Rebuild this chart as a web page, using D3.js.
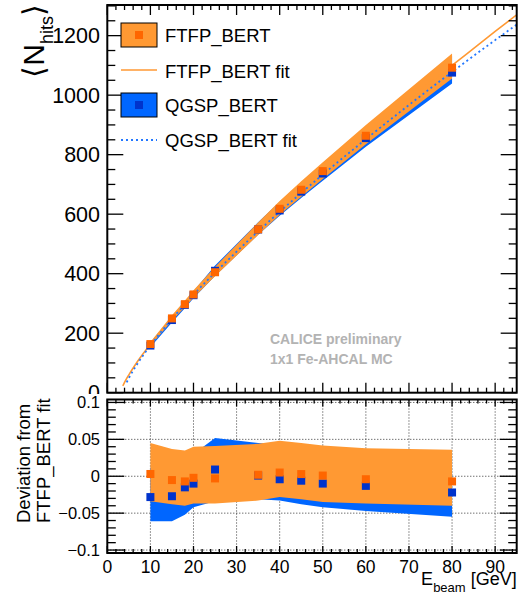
<!DOCTYPE html>
<html>
<head>
<meta charset="utf-8">
<script src="https://cdn.jsdelivr.net/npm/d3@7"></script>
<style>
  body { margin: 0; background: #fff; }
  text { font-family: "Liberation Sans", Arial, Helvetica, sans-serif; }
</style>
</head>
<body>
<div id="chart"></div>
<script>
// beam energies of the simulated points [GeV]
const energies = [10, 15, 18, 20, 25, 35, 40, 45, 50, 60, 80];

// mean number of hits
const ftfpHits = [163.5, 249.7, 297.5, 330.3, 404.8, 549.1, 618.1, 682.0, 744.7, 863.5, 1092.3];
const qgspHits = [158.4, 244.2, 295.1, 327.7, 409.7, 548.5, 612.5, 675.9, 736.6, 855.7, 1075.8];

// FTFP_BERT fit evaluated at the beam energies (reference for deviations)
const ftfpFitAt = [163, 251, 299.6, 331, 406, 548, 615, 680, 744, 867, 1100];

// systematic bands, relative to FTFP_BERT fit
const ftfpBandLo = [-0.034, -0.038, -0.040, -0.037, -0.037, -0.033, -0.028, -0.031, -0.035, -0.037, -0.040];
const ftfpBandHi = [0.045, 0.037, 0.035, 0.040, 0.041, 0.044, 0.048, 0.045, 0.0415, 0.038, 0.036];
const qgspBandLo = [-0.061, -0.061, -0.052, -0.042, -0.034, -0.031, -0.033, -0.038, -0.042, -0.047, -0.055];
const qgspBandHi = [0.012, 0.012, 0.022, 0.030, 0.052, 0.045, 0.043, 0.040, 0.037, 0.033, 0.028];

// fit curves
const ftfpFitE = [3.6, 4, 4.5, 5, 6, 7, 8, 10, 12, 15, 20, 30, 40, 50, 60, 70, 80, 90, 95];
const ftfpFitN = [23, 35, 48, 60, 83, 105, 125, 163, 199.5, 251, 331, 478, 615, 744, 867, 986, 1100, 1214, 1270];
const qgspFitE = [4.5, 5, 6, 7, 8, 10, 12, 15, 20, 30, 40, 50, 60, 70, 80, 90, 95];
const qgspFitN = [35, 49, 74.5, 97.5, 119, 159, 196, 248, 329, 474, 608, 733, 852, 967, 1078, 1185, 1237];

const yTicksTop = [0, 200, 400, 600, 800, 1000, 1200];
const yTicksBot = [-0.1, -0.05, 0, 0.05, 0.1];
const xTicks = [0, 10, 20, 30, 40, 50, 60, 70, 80, 90];

const legendLabels = ["FTFP_BERT", "FTFP_BERT fit", "QGSP_BERT", "QGSP_BERT fit"];

const width = 524, height = 599;
const bandOrange = "#ff9933", bandBlue = "#0066ff";
const markOrange = "#ff6600", markBlue = "#0033cc";

const svg = d3.select("#chart").append("svg")
  .attr("width", width).attr("height", height);

const x = d3.scaleLinear().domain([0, 95]).range([107.3, 516.7]);
const yTop = d3.scaleLinear().domain([0, 1303]).range([392.7, 5]);
const yBot = d3.scaleLinear().domain([-0.104, 0.104]).range([553, 399.5]);

const defs = svg.append("defs");
defs.append("clipPath").attr("id", "clipTop").append("rect")
  .attr("x", x(0)).attr("y", yTop(1303)).attr("width", x(95) - x(0)).attr("height", yTop(0) - yTop(1303));
defs.append("clipPath").attr("id", "clipBot").append("rect")
  .attr("x", x(0)).attr("y", yBot(0.104)).attr("width", x(95) - x(0)).attr("height", yBot(-0.104) - yBot(0.104));

// ---------- top pad ----------
const topPad = svg.append("g");
const topPlot = topPad.append("g").attr("clip-path", "url(#clipTop)");

const bandTop = (lo, hi) => d3.area()
  .x((d, i) => x(energies[i]))
  .y0((d, i) => yTop(ftfpFitAt[i] * (1 + lo[i])))
  .y1((d, i) => yTop(ftfpFitAt[i] * (1 + hi[i])));

topPlot.append("path").datum(energies).attr("d", bandTop(qgspBandLo, qgspBandHi)).attr("fill", bandBlue);
topPlot.append("path").datum(energies).attr("d", bandTop(ftfpBandLo, ftfpBandHi)).attr("fill", bandOrange);

const fitLine = d3.line().x(d => x(d[0])).y(d => yTop(d[1])).curve(d3.curveMonotoneX);
topPlot.append("path").datum(ftfpFitE.map((e, i) => [e, ftfpFitN[i]]))
  .attr("d", fitLine).attr("fill", "none").attr("stroke", bandOrange).attr("stroke-width", 1.6);
topPlot.append("path").datum(qgspFitE.map((e, i) => [e, qgspFitN[i]]))
  .attr("d", fitLine).attr("fill", "none").attr("stroke", "#2277ff").attr("stroke-width", 1.8)
  .attr("stroke-dasharray", "2,3");

const ms = 8;
topPlot.selectAll(".mq").data(energies).join("rect")
  .attr("x", d => x(d) - ms / 2).attr("y", (d, i) => yTop(qgspHits[i]) - ms / 2)
  .attr("width", ms).attr("height", ms).attr("fill", markBlue);
topPlot.selectAll(".mf").data(energies).join("rect")
  .attr("x", d => x(d) - ms / 2).attr("y", (d, i) => yTop(ftfpHits[i]) - ms / 2)
  .attr("width", ms).attr("height", ms).attr("fill", markOrange);

// axes of top pad (ticks inside, mirrored)
const tickG = topPad.append("g").attr("stroke", "#000").attr("stroke-width", 1.3);
d3.range(0, 1301, 50).forEach(v => {
  const len = v % 200 === 0 ? 16 : 8;
  tickG.append("line").attr("x1", x(0)).attr("x2", x(0) + len).attr("y1", yTop(v)).attr("y2", yTop(v));
  tickG.append("line").attr("x1", x(95)).attr("x2", x(95) - len).attr("y1", yTop(v)).attr("y2", yTop(v));
});
d3.range(0, 95, 2).forEach(v => {
  const len = v % 10 === 0 ? 10 : 5;
  tickG.append("line").attr("x1", x(v)).attr("x2", x(v)).attr("y1", yTop(0)).attr("y2", yTop(0) - len);
  tickG.append("line").attr("x1", x(v)).attr("x2", x(v)).attr("y1", yTop(1303)).attr("y2", yTop(1303) + len);
});
topPad.append("rect").attr("x", x(0)).attr("y", yTop(1303))
  .attr("width", x(95) - x(0)).attr("height", yTop(0) - yTop(1303))
  .attr("fill", "none").attr("stroke", "#000").attr("stroke-width", 2);

topPad.selectAll(".ytl").data(yTicksTop).join("text")
  .attr("x", 100).attr("y", d => yTop(d)).attr("dy", "0.36em")
  .attr("text-anchor", "end").attr("font-size", 21.5).text(d => d);

// y title <N_hits>
const yt = topPad.append("text").attr("transform", "translate(44,4) rotate(-90)")
  .attr("text-anchor", "end").attr("font-size", 30);
yt.append("tspan").attr("font-family", "DejaVu Sans").attr("font-weight", 300).text("\u27E8");
yt.append("tspan").text("N");
yt.append("tspan").attr("font-size", 18).attr("dy", 9).text("hits");
yt.append("tspan").attr("font-family", "DejaVu Sans").attr("font-weight", 300).attr("dy", -9).text("\u27E9");

// legend
const leg = topPad.append("g");
const legY = [35, 71, 105, 140];
leg.append("rect").attr("x", 121).attr("y", legY[0] - 12).attr("width", 36).attr("height", 24)
  .attr("fill", bandOrange).attr("stroke", "#000").attr("stroke-width", 1);
leg.append("rect").attr("x", 139 - ms / 2).attr("y", legY[0] - ms / 2).attr("width", ms).attr("height", ms).attr("fill", markOrange);
leg.append("line").attr("x1", 121).attr("x2", 157).attr("y1", legY[1] - 1).attr("y2", legY[1] - 1)
  .attr("stroke", bandOrange).attr("stroke-width", 1.6);
leg.append("rect").attr("x", 121).attr("y", legY[2] - 12).attr("width", 36).attr("height", 24)
  .attr("fill", bandBlue).attr("stroke", "#000").attr("stroke-width", 1);
leg.append("rect").attr("x", 139 - ms / 2).attr("y", legY[2] - ms / 2).attr("width", ms).attr("height", ms).attr("fill", markBlue);
leg.append("line").attr("x1", 121).attr("x2", 157).attr("y1", legY[3]).attr("y2", legY[3])
  .attr("stroke", "#2277ff").attr("stroke-width", 1.8).attr("stroke-dasharray", "2,3");
leg.selectAll("text").data(legendLabels).join("text")
  .attr("x", 165).attr("y", (d, i) => legY[i] + 7).attr("font-size", 18.5).text(d => d);

topPad.append("text").attr("x", 270).attr("y", 344).attr("font-size", 14).attr("font-weight", "bold")
  .attr("fill", "#b3b3b3").text("CALICE preliminary");
topPad.append("text").attr("x", 270).attr("y", 364).attr("font-size", 14).attr("font-weight", "bold")
  .attr("fill", "#b3b3b3").text("1x1 Fe-AHCAL MC");

// ---------- bottom pad ----------
const botPad = svg.append("g");
botPad.append("rect").attr("x", 0).attr("y", 394).attr("width", width).attr("height", height - 394).attr("fill", "#fff");
const botPlot = botPad.append("g").attr("clip-path", "url(#clipBot)");

// grid
const grid = botPlot.append("g").attr("stroke", "#333").attr("stroke-width", 1).attr("stroke-dasharray", "1,2");
xTicks.forEach(v => grid.append("line").attr("x1", x(v)).attr("x2", x(v)).attr("y1", yBot(0.104)).attr("y2", yBot(-0.104)));
yTicksBot.forEach(v => grid.append("line").attr("x1", x(0)).attr("x2", x(95)).attr("y1", yBot(v)).attr("y2", yBot(v)));

const bandBot = (lo, hi) => d3.area()
  .x((d, i) => x(energies[i]))
  .y0((d, i) => yBot(lo[i]))
  .y1((d, i) => yBot(hi[i]));
botPlot.append("path").datum(energies).attr("d", bandBot(qgspBandLo, qgspBandHi)).attr("fill", bandBlue);
botPlot.append("path").datum(energies).attr("d", bandBot(ftfpBandLo, ftfpBandHi)).attr("fill", bandOrange);

botPlot.selectAll(".dq").data(energies).join("rect")
  .attr("x", d => x(d) - ms / 2).attr("y", (d, i) => yBot(qgspHits[i] / ftfpFitAt[i] - 1) - ms / 2)
  .attr("width", ms).attr("height", ms).attr("fill", markBlue);
botPlot.selectAll(".df").data(energies).join("rect")
  .attr("x", d => x(d) - ms / 2).attr("y", (d, i) => yBot(ftfpHits[i] / ftfpFitAt[i] - 1) - ms / 2)
  .attr("width", ms).attr("height", ms).attr("fill", markOrange);

const tickB = botPad.append("g").attr("stroke", "#000").attr("stroke-width", 1.3);
d3.range(-100, 101, 10).forEach(k => {
  const v = k / 1000, len = k % 50 === 0 ? 17 : 8.5;
  tickB.append("line").attr("x1", x(0)).attr("x2", x(0) + len).attr("y1", yBot(v)).attr("y2", yBot(v));
  tickB.append("line").attr("x1", x(95)).attr("x2", x(95) - len).attr("y1", yBot(v)).attr("y2", yBot(v));
});
d3.range(0, 95, 2).forEach(v => {
  const len = v % 10 === 0 ? 7 : 4;
  tickB.append("line").attr("x1", x(v)).attr("x2", x(v)).attr("y1", yBot(-0.104)).attr("y2", yBot(-0.104) - len);
  tickB.append("line").attr("x1", x(v)).attr("x2", x(v)).attr("y1", yBot(0.104)).attr("y2", yBot(0.104) + len);
});
botPad.append("rect").attr("x", x(0)).attr("y", yBot(0.104))
  .attr("width", x(95) - x(0)).attr("height", yBot(-0.104) - yBot(0.104))
  .attr("fill", "none").attr("stroke", "#000").attr("stroke-width", 2);

const fmtBot = d => d === 0 ? "0" : (d < 0 ? "\u2212" : "") + Math.abs(d);
botPad.selectAll(".ybl").data(yTicksBot).join("text")
  .attr("x", 100).attr("y", d => yBot(d)).attr("dy", "0.36em")
  .attr("text-anchor", "end").attr("font-size", 16.5).text(fmtBot);
botPad.selectAll(".xbl").data(xTicks).join("text")
  .attr("x", d => x(d)).attr("y", 573)
  .attr("text-anchor", "middle").attr("font-size", 17.5).text(d => d);

// x title
const xt = botPad.append("text").attr("x", 516.7).attr("y", 585).attr("text-anchor", "end").attr("font-size", 18);
xt.append("tspan").text("E");
xt.append("tspan").attr("font-size", 13).attr("dy", 7).text("beam");
xt.append("tspan").attr("dy", -7).text(" [GeV]");

// y title of ratio pad
botPad.append("text").attr("transform", "translate(30,523) rotate(-90)").attr("font-size", 18.5).text("Deviation from");
botPad.append("text").attr("transform", "translate(49.5,523) rotate(-90)").attr("font-size", 18.5).text("FTFP_BERT fit");
</script>
</body>
</html>
